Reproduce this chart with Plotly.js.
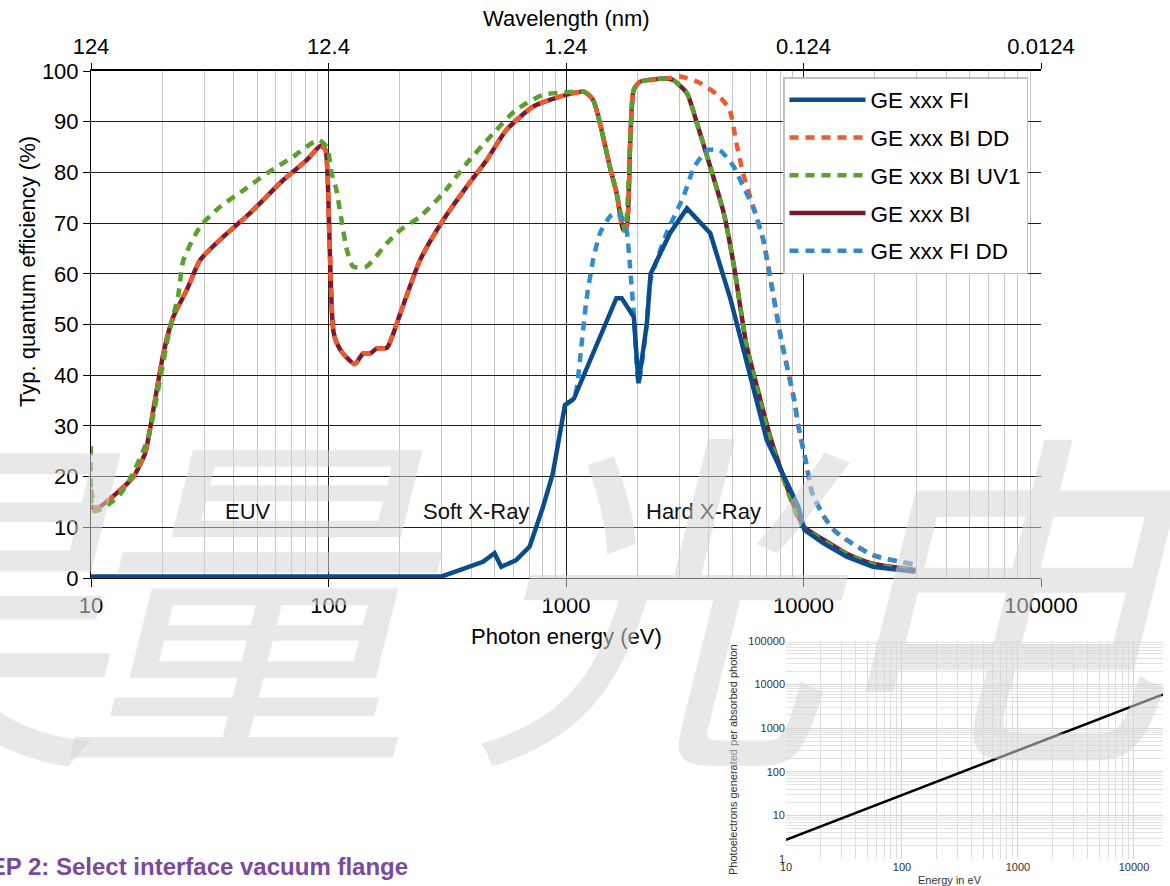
<!DOCTYPE html>
<html>
<head>
<meta charset="utf-8">
<script src="https://cdn.plot.ly/plotly-3.0.1.min.js"></script>
<style>
  html, body { margin: 0; padding: 0; background: #fff; }
  #chart { width: 1170px; height: 886px; }
</style>
</head>
<body>
<div id="chart"></div>
<script>
// ---------- Data ----------
// Photon energy in eV, typical quantum efficiency in %
const fiE  = [10, 300, 447, 500, 534, 615, 703, 800, 880, 990, 1080, 1630, 1715, 1930, 2020, 2190, 2270, 2740, 3230, 4050, 4940, 7000, 9530, 10080, 12200, 15200, 19600, 29600];
const fiQE = [0.3, 0.3, 3.2, 4.9, 2.2, 3.5, 6.2, 14, 20.6, 34.1, 35.4, 55.2, 55.2, 51.5, 38.4, 50.2, 60, 68, 72.9, 68, 54.8, 27.2, 14, 9.5, 6.8, 4.2, 2.2, 1.25];

const biE  = [10, 10.5, 12.8, 15.1, 16.9, 17.7, 18.9, 20.2, 22.2, 25.3, 28.8, 34.9, 46.8, 64.5, 80.9, 92.4, 97, 99, 100.5, 102, 103.5, 105, 108, 115, 129, 140, 150, 160, 176, 185, 200, 243, 304, 382, 463, 562, 728, 1000, 1195, 1300, 1390, 1530, 1634, 1745, 1800, 1865, 1929, 2055, 2650, 2830, 3230, 3560, 4050, 4620, 5100, 5750, 6470, 7230, 8300, 9530, 10080, 12200, 15200, 19600, 29600];
const biQE = [14.2, 13.6, 16.7, 20, 24.6, 29.2, 37, 44.4, 51.5, 56.8, 62.7, 66.7, 72, 78.5, 82.4, 85.2, 84.5, 80, 70, 60, 52, 48.5, 46.5, 44.3, 42.2, 44.3, 44.3, 45.3, 45.4, 47.5, 52, 62.7, 70.6, 77.2, 82.4, 88.4, 93, 95.3, 95.9, 94.3, 89.7, 81.1, 75.9, 68.6, 69.3, 86.4, 96.3, 97.9, 98.5, 98.2, 95.6, 89.7, 81.1, 71.9, 61.4, 46, 36.5, 28, 19.5, 12, 10, 7.5, 4.8, 2.8, 1.6];

const biddE  = [10, 10.5, 12.8, 15.1, 16.9, 17.7, 18.9, 20.2, 22.2, 25.3, 28.8, 34.9, 46.8, 64.5, 80.9, 92.4, 97, 99, 100.5, 102, 103.5, 105, 108, 115, 129, 140, 150, 160, 176, 185, 200, 243, 304, 382, 463, 562, 728, 1000, 1195, 1300, 1390, 1530, 1634, 1745, 1800, 1865, 1929, 2055, 2650, 3030, 3680, 4440, 4890, 5220, 5570, 6140, 6770, 7230, 8070, 9140, 9530, 10200, 10890, 12200, 13400, 15200, 19600, 29600];
const biddQE = [17.5, 13.8, 16.7, 20, 24.6, 29.2, 37, 44.4, 51.5, 56.8, 62.7, 66.7, 72, 78.5, 82.4, 85.2, 84.5, 80, 70, 60, 52, 48.5, 46.5, 44.3, 42.2, 44.3, 44.3, 45.3, 45.4, 47.5, 52, 62.7, 70.6, 77.2, 82.4, 88.4, 93, 95.3, 95.9, 94.3, 89.7, 81.1, 75.9, 68.6, 69.3, 86.4, 96.3, 97.9, 98.5, 98.9, 97.6, 94.9, 92.3, 85.7, 79.8, 73.2, 66.7, 59.4, 46.9, 35.1, 29.8, 23.3, 16.7, 12.1, 9.5, 7.5, 4.5, 2.6];

const uv1E  = [10, 10.3, 12.8, 14.4, 17.1, 18, 19.5, 21.2, 23.3, 24.5, 28.8, 34.9, 43.9, 55, 71, 90.5, 98.5, 103, 108, 114, 119.5, 127, 144, 176, 200, 243, 304, 382, 494, 615, 800, 1000, 1195, 1300, 1390, 1530, 1634, 1775, 1865, 1929, 2055, 2650, 2830, 3230, 3560, 4050, 4620, 5100, 5750, 6470, 7230, 8300, 9530, 10080, 12200, 15200, 19600, 29600];
const uv1QE = [26, 13.2, 15.7, 19, 26.6, 30.5, 39, 47.9, 55.8, 62.7, 69.3, 73.2, 76.5, 79.8, 83.1, 86.4, 85, 80, 76.5, 70, 64.7, 61.4, 61.4, 66, 68.6, 71.3, 75.9, 81.8, 87.7, 92.3, 95.3, 95.8, 95.9, 94.3, 89.7, 81.1, 75.9, 68.5, 86.4, 96.3, 97.9, 98.5, 98.2, 95.6, 89.7, 81.1, 71.9, 61.4, 46, 36, 27.5, 19, 11.5, 9.8, 7.3, 4.7, 2.7, 1.5];

const fiddE  = [990, 1080, 1110, 1160, 1220, 1300, 1390, 1530, 1630, 1720, 1800, 1860, 1930, 2020, 2190, 2270, 2650, 3120, 3460, 3930, 4440, 5090, 5570, 6140, 6770, 7230, 8070, 9140, 9530, 10200, 10890, 12200, 13400, 15200, 19600, 29600];
const fiddQE = [34.1, 35.4, 37.5, 45.6, 55, 62.7, 68, 71.3, 72, 71, 68.6, 61.4, 52, 38.4, 50.2, 58.8, 68, 75.2, 81, 84.4, 84.4, 81.1, 77.2, 73.2, 66.7, 59.4, 46.9, 35.1, 29.8, 23.3, 16.7, 12.1, 9.5, 7.5, 4.5, 2.6];

// Top axis: wavelength tick labels (nm)
const wavelengthLabels = ['124', '12.4', '1.24', '0.124', '0.0124'];

// Region labels
const regionNames = ['EUV', 'Soft X-Ray', 'Hard X-Ray'];

// Inset: photoelectrons generated per absorbed photon vs energy
const insetE  = [10, 100, 1000, 10000, 17800];
const insetPE = [2.75, 29, 310, 3300, 5900];

// Watermark characters
const watermarkChars = ['昊', '量', '光', '电'];

// ---------- Helpers ----------
const W = 1170, H = 886;
const px = v => v / W;
const py = v => 1 - v / H;
const FONT = 'Liberation Sans, Arial, Helvetica, sans-serif';
const wavelengthTickEnergies = wavelengthLabels.map(l => 1240 / parseFloat(l));

const common = { xaxis: 'x', yaxis: 'y', hoverinfo: 'skip', mode: 'lines' };

const traces = [
  Object.assign({}, common, {
    name: 'GE xxx BI', x: biE, y: biQE, legendrank: 4, legendgroup: 'g4',
    line: { color: '#7a1a2c', width: 4.5, shape: 'spline', smoothing: 0.6 }
  }),
  Object.assign({}, common, {
    name: 'GE xxx BI DD', x: biddE, y: biddQE, legendrank: 2, legendgroup: 'g2',
    line: { color: '#ee5a2e', width: 4.5, dash: '9px,7px', shape: 'spline', smoothing: 0.6 }
  }),
  Object.assign({}, common, {
    name: 'GE xxx BI UV1', x: uv1E, y: uv1QE, legendrank: 3, legendgroup: 'g3',
    line: { color: '#5aa02c', width: 4.5, dash: '9px,7px', shape: 'spline', smoothing: 0.6 }
  }),
  Object.assign({}, common, {
    name: 'GE xxx FI DD', x: fiddE, y: fiddQE, legendrank: 5, legendgroup: 'g5',
    line: { color: '#2f8ccf', width: 4.5, dash: '9px,7px', shape: 'spline', smoothing: 0.5 }
  }),
  Object.assign({}, common, {
    name: 'GE xxx FI', x: fiE, y: fiQE, legendrank: 1, legendgroup: 'g1',
    line: { color: '#0a4c8c', width: 4.5 }
  }),
  // helper trace carrying the top wavelength axis
  { x: wavelengthTickEnergies, y: wavelengthTickEnergies.map(() => null), xaxis: 'x2', yaxis: 'y',
    mode: 'lines', showlegend: false, hoverinfo: 'skip' },
  // inset
  { x: insetE, y: insetPE, xaxis: 'x3', yaxis: 'y3', mode: 'lines', showlegend: false, hoverinfo: 'skip',
    line: { color: '#000', width: 2.5 } }
];

const mainXDomain = [px(91), px(1041)];
const mainYDomain = [py(578), py(71)];

// watermark placement (em-box centres in page pixels)
const wmX = [-62, 252, 662, 995];
const watermark = watermarkChars.map((ch, i) => ({
  text: ch, xref: 'paper', yref: 'paper', x: px(wmX[i]), y: py(583),
  showarrow: false, xanchor: 'center', yanchor: 'middle',
  font: { family: 'Noto Sans CJK SC, sans-serif', size: 356, color: 'rgba(214,214,214,0.55)', style: 'italic' }
}));

const layout = {
  width: W, height: H,
  margin: { l: 0, r: 0, t: 0, b: 0, pad: 0 },
  paper_bgcolor: '#ffffff',
  plot_bgcolor: 'rgba(0,0,0,0)',
  font: { family: FONT, size: 22, color: '#000' },
  showlegend: true,
  legend: {
    x: px(783), y: py(77), xanchor: 'left', yanchor: 'top',
    bgcolor: '#ffffff', bordercolor: '#c0c0c0', borderwidth: 1.5,
    font: { family: FONT, size: 22.5, color: '#000' },
    traceorder: 'grouped', tracegroupgap: 5.5, itemwidth: 76
  },
  xaxis: {
    type: 'log', range: [1, 5], domain: mainXDomain, anchor: 'y',
    dtick: 1, tickformat: 'd',
    showgrid: true, gridcolor: '#1e1e1e', gridwidth: 1,
    minor: { dtick: 'D1', showgrid: true, gridcolor: '#c6c6c6', gridwidth: 1 },
    showline: true, linecolor: '#000', linewidth: 1,
    ticks: 'outside', ticklen: 8, tickcolor: '#000', tickwidth: 1,
    tickfont: { family: FONT, size: 22, color: '#000' },
    zeroline: false, fixedrange: true, automargin: false
  },
  xaxis2: {
    type: 'log', range: [1, 5], overlaying: 'x', anchor: 'y', side: 'top',
    tickmode: 'array', tickvals: wavelengthTickEnergies, ticktext: wavelengthLabels,
    showgrid: false, showline: true, linecolor: '#000', linewidth: 2.5,
    ticks: 'outside', ticklen: 6, tickcolor: '#000', tickwidth: 1,
    tickfont: { family: FONT, size: 22, color: '#000' },
    zeroline: false, fixedrange: true, automargin: false
  },
  yaxis: {
    range: [0, 100], domain: mainYDomain, anchor: 'x', dtick: 10,
    showgrid: true, gridcolor: '#1e1e1e', gridwidth: 1,
    showline: true, linecolor: '#000', linewidth: 1,
    ticks: 'outside', ticklen: 7, tickcolor: '#000', tickwidth: 1,
    tickfont: { family: FONT, size: 22, color: '#000' },
    zeroline: false, fixedrange: true, automargin: false
  },
  xaxis3: {
    type: 'log', range: [1, Math.log10(17800)], domain: [px(786), px(1163)], anchor: 'y3',
    dtick: 1, tickformat: 'd',
    showgrid: true, gridcolor: '#d4d4d4', gridwidth: 1,
    minor: { dtick: 'D1', showgrid: true, gridcolor: '#dedede', gridwidth: 1 },
    showline: false, ticks: '', zeroline: false,
    tickfont: { family: FONT, size: 11, color: '#333' },
    fixedrange: true, automargin: false
  },
  yaxis3: {
    type: 'log', range: [0, 5], domain: [py(859), py(640.7)], anchor: 'x3',
    dtick: 1, tickformat: 'd',
    showgrid: true, gridcolor: '#d4d4d4', gridwidth: 1,
    minor: { dtick: 'D1', showgrid: true, gridcolor: '#e2e2e2', gridwidth: 1 },
    showline: false, ticks: '', zeroline: false,
    tickfont: { family: FONT, size: 11, color: '#333' },
    fixedrange: true, automargin: false
  },
  annotations: [
    { text: 'Typ. quantum efficiency (%)', xref: 'paper', yref: 'paper', x: px(27), y: py(272),
      textangle: -90, showarrow: false, xanchor: 'center', yanchor: 'middle',
      font: { family: FONT, size: 22, color: '#000' } },
    { text: 'Photon energy (eV)', xref: 'paper', yref: 'paper', x: px(566), y: py(636),
      showarrow: false, xanchor: 'center', yanchor: 'middle',
      font: { family: FONT, size: 22, color: '#000' } },
    { text: 'Wavelength (nm)', xref: 'paper', yref: 'paper', x: px(566), y: py(18),
      showarrow: false, xanchor: 'center', yanchor: 'middle',
      font: { family: FONT, size: 22, color: '#000' } },
    { text: regionNames[0], xref: 'paper', yref: 'paper', x: px(248), y: py(511),
      showarrow: false, xanchor: 'center', yanchor: 'middle',
      font: { family: FONT, size: 22, color: '#111' } },
    { text: regionNames[1], xref: 'paper', yref: 'paper', x: px(476), y: py(511),
      showarrow: false, xanchor: 'center', yanchor: 'middle',
      font: { family: FONT, size: 22, color: '#111' } },
    { text: regionNames[2], xref: 'paper', yref: 'paper', x: px(703), y: py(511),
      showarrow: false, xanchor: 'center', yanchor: 'middle',
      font: { family: FONT, size: 22, color: '#111' } },
    { text: 'Photoelectrons generated per absorbed photon', xref: 'paper', yref: 'paper',
      x: px(733), y: py(760), textangle: -90, showarrow: false,
      xanchor: 'center', yanchor: 'middle',
      font: { family: FONT, size: 11, color: '#333' } },
    { text: 'Energy in eV', xref: 'paper', yref: 'paper', x: px(950), y: py(880),
      showarrow: false, xanchor: 'center', yanchor: 'middle',
      font: { family: FONT, size: 11, color: '#333' } },
    { text: '<b>STEP 2: Select interface vacuum flange</b>', xref: 'paper', yref: 'paper',
      x: px(410), y: py(866), showarrow: false, xanchor: 'right', yanchor: 'middle',
      font: { family: FONT, size: 24, color: '#7b4a9b' } }
  ].concat(watermark)
};

Plotly.newPlot('chart', traces, layout, { staticPlot: true, displayModeBar: false });
</script>
</body>
</html>
